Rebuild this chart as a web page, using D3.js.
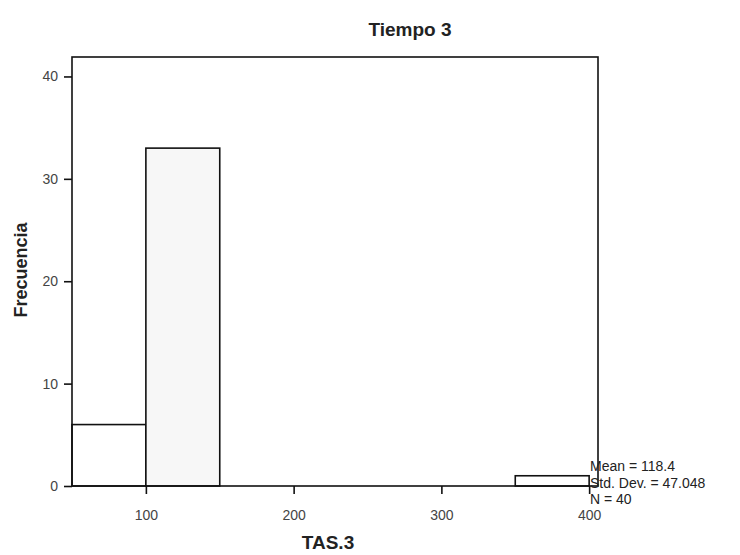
<!DOCTYPE html>
<html lang="es">
<head>
<meta charset="UTF-8" />
<title>Tiempo 3</title>
<script src="https://cdn.jsdelivr.net/npm/d3@7"></script>
<style>
  body { margin: 0; background: #fff; }
  text { font-family: "Liberation Sans", Arial, sans-serif; fill: #222; }
  .axis path, .axis line { stroke: #111; stroke-width: 1.6; }
  .axis text { font-size: 14px; fill: #444; }
</style>
</head>
<body>
<div id="container"></div>
<script>
  // histogram bins (TAS.3) and counts
  const binStarts = [50, 100, 350];
  const binEnds = [100, 150, 400];
  const counts = [6, 33, 1];
  const xTicks = [100, 200, 300, 400];
  const yTicks = [0, 10, 20, 30, 40];
  const stats = ["Mean = 118.4", "Std. Dev. = 47.048", "N = 40"];

  const W = 740, H = 555;
  const margin = { top: 57, right: 142, bottom: 69, left: 72 };
  const width = W - margin.left - margin.right,
    height = H - margin.top - margin.bottom;

  const svg = d3.select('#container').append('svg')
    .attr('width', W).attr('height', H);

  const x = d3.scaleLinear().domain([50, 406]).range([0, width]);
  const y = d3.scaleLinear().domain([0, 41.9]).range([height, 0]);

  const g = svg.append('g')
    .attr('transform', `translate(${margin.left},${margin.top})`);

  // bars
  g.selectAll('.bar')
    .data(counts)
    .enter()
    .append('rect')
    .attr('class', 'bar')
    .attr('x', (d, i) => x(binStarts[i]))
    .attr('width', (d, i) => x(binEnds[i]) - x(binStarts[i]))
    .attr('y', d => y(d))
    .attr('height', d => y(0) - y(d))
    .attr('fill', (d, i) => i === 1 ? '#f7f7f7' : '#fff')
    .attr('stroke', '#111')
    .attr('stroke-width', 1.6);

  // frame
  g.append('rect')
    .attr('width', width).attr('height', height)
    .attr('fill', 'none').attr('stroke', '#111').attr('stroke-width', 1.6);

  g.append('g').attr('class', 'axis')
    .attr('transform', `translate(0,${height})`)
    .call(d3.axisBottom(x).tickValues(xTicks).tickSize(8).tickPadding(16).tickSizeOuter(0))
    .call(s => s.select('.domain').remove());

  g.append('g').attr('class', 'axis')
    .call(d3.axisLeft(y).tickValues(yTicks).tickSize(8).tickPadding(6).tickSizeOuter(0))
    .call(s => s.select('.domain').remove());

  // title
  svg.append('text')
    .attr('x', 410).attr('y', 36)
    .attr('text-anchor', 'middle')
    .style('font-size', '19px').style('font-weight', 'bold')
    .text('Tiempo 3');

  // axis titles
  svg.append('text')
    .attr('x', 328).attr('y', 549)
    .attr('text-anchor', 'middle')
    .style('font-size', '19px').style('font-weight', 'bold')
    .text('TAS.3');

  svg.append('text')
    .attr('transform', 'translate(27,270) rotate(-90)')
    .attr('text-anchor', 'middle')
    .style('font-size', '18px').style('font-weight', 'bold')
    .text('Frecuencia');

  // stats box text
  svg.selectAll('.stat')
    .data(stats)
    .enter()
    .append('text')
    .attr('class', 'stat')
    .attr('x', 590)
    .attr('y', (d, i) => 471 + i * 16.5)
    .style('font-size', '14px')
    .text(d => d);
</script>
</body>
</html>
